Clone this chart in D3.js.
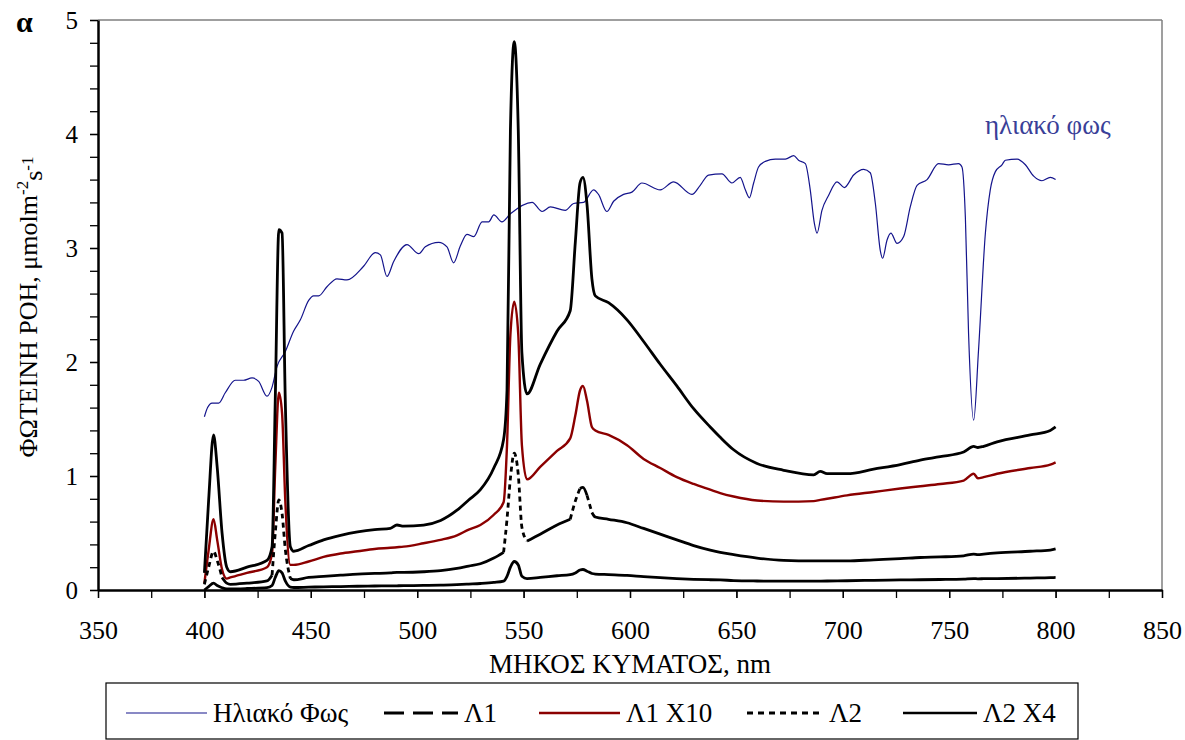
<!DOCTYPE html>
<html>
<head>
<meta charset="utf-8">
<script src="https://cdn.jsdelivr.net/npm/d3@7"></script>
<style>
    body { margin: 0; background: #fff; }
    text { font-family: "Liberation Serif", "Times New Roman", serif; fill: #000; }
</style>
</head>
<body>
<svg id="chart" width="1185" height="740"></svg>
<script>
// sunlight spectrum
var sunNm = [400, 401.5, 403.6, 406.7, 409.8, 414.5, 418.4, 422.4, 425.5, 429.4, 431.8, 434.1, 438, 441.9, 445.1,
    449, 451.3, 453.7, 457.6, 462.3, 467, 474.8, 480.3, 482.7, 485.8, 488.9, 495.2, 500.7, 503.8, 510.1, 514,
    517.1, 520.3, 523.4, 526.6, 530.5, 533.6, 536, 539.8, 543.8, 554, 558.7, 562.6, 569.6, 573.5, 578.2, 582.9,
    585.2, 589.1, 592.3, 597, 600.9, 605.6, 614.2, 620.5, 629.1, 633, 636.9, 643.2, 647.9, 651.8, 654.2, 656.1,
    658.1, 660.4, 663.6, 668.3, 673, 676.9, 679.2, 682.4, 684.7, 686.6, 687.9, 690.2, 693.3, 697.3, 700.7, 705.1,
    709.8, 712.9, 715.3, 717.6, 718.7, 720.8, 722.6, 725.5, 728.6, 731.7, 734.9, 739.6, 745, 749.7, 754.4, 756,
    757.6, 759.1, 761.5, 763.8, 767, 769.3, 771.7, 774.8, 776.4, 781.9, 785.8, 789.7, 793.6, 797.5, 800];
var sunVal = [1.52, 1.60, 1.64, 1.64, 1.73, 1.84, 1.84, 1.86, 1.83, 1.70, 1.78, 1.96, 2.09, 2.27, 2.37,
    2.54, 2.58, 2.58, 2.66, 2.73, 2.72, 2.84, 2.96, 2.94, 2.75, 2.88, 3.03, 2.95, 3.01, 3.05, 3.01,
    2.87, 3.02, 3.12, 3.10, 3.23, 3.23, 3.29, 3.23, 3.30, 3.40, 3.32, 3.36, 3.33, 3.39, 3.40, 3.51,
    3.47, 3.32, 3.41, 3.47, 3.49, 3.57, 3.51, 3.58, 3.47, 3.55, 3.64, 3.65, 3.57, 3.62, 3.51, 3.44,
    3.57, 3.71, 3.76, 3.78, 3.78, 3.81, 3.77, 3.74, 3.51, 3.22, 3.13, 3.33, 3.46, 3.58, 3.53, 3.64,
    3.69, 3.66, 3.39, 2.98, 2.91, 3.07, 3.13, 3.04, 3.10, 3.36, 3.55, 3.60, 3.74, 3.73, 3.74, 3.71,
    3.27, 2.25, 1.49, 2.11, 3.13, 3.51, 3.67, 3.73, 3.77, 3.78, 3.73, 3.63, 3.59, 3.62, 3.60];

// lamp spectra, common wavelengths
var lampNm = [400, 402, 404.3, 406, 408.3, 410.5, 412.2, 420, 429.4, 431.8, 433.3, 435, 436.5, 438, 440.4,
    442, 449, 456, 464, 472, 480, 487.4, 490.5, 493.6, 503, 511, 518.7, 524.2, 529.7, 536, 540.6,
    542.2, 543.8, 545.6, 547.5, 549.2, 551.6, 557.8, 565.7, 571.9, 574.3, 576.5, 577.9, 579.8, 582.1, 583.7,
    589.9, 598.6, 606.4, 614.2, 622, 629.9, 637.7, 642.4, 648.7, 659.7, 672.2, 686.3, 689.4, 692.6, 702,
    714.5, 727, 736.4, 745.8, 756.8, 761.5, 763.5, 766.2, 772.5, 788.1, 797.5, 800];
var l1 = [0.00, 0.03, 0.06, 0.04, 0.02, 0.01, 0.01, 0.013, 0.02, 0.04, 0.11, 0.17, 0.15, 0.08, 0.025,
    0.022, 0.025, 0.028, 0.03, 0.033, 0.035, 0.036, 0.037, 0.038, 0.04, 0.043, 0.047, 0.052, 0.057, 0.066, 0.078,
    0.12, 0.20, 0.25, 0.22, 0.12, 0.10, 0.11, 0.125, 0.135, 0.15, 0.175, 0.18, 0.165, 0.145, 0.14,
    0.135, 0.128, 0.117, 0.108, 0.10, 0.094, 0.09, 0.088, 0.083, 0.079, 0.077, 0.077, 0.078, 0.079, 0.081,
    0.085, 0.088, 0.09, 0.092, 0.096, 0.10, 0.098, 0.099, 0.10, 0.105, 0.108, 0.11];
var l1x10 = [0.06, 0.35, 0.62, 0.44, 0.18, 0.10, 0.11, 0.15, 0.20, 0.32, 1.08, 1.73, 1.55, 0.79, 0.22,
    0.22, 0.25, 0.29, 0.32, 0.34, 0.36, 0.37, 0.375, 0.38, 0.41, 0.44, 0.48, 0.53, 0.57, 0.66, 0.77,
    1.27, 2.24, 2.53, 2.24, 1.27, 0.97, 1.08, 1.22, 1.33, 1.53, 1.75, 1.79, 1.66, 1.43, 1.40,
    1.36, 1.27, 1.15, 1.07, 0.99, 0.93, 0.88, 0.85, 0.82, 0.785, 0.775, 0.78, 0.79, 0.80, 0.83,
    0.86, 0.89, 0.91, 0.93, 0.96, 1.02, 0.98, 0.99, 1.02, 1.07, 1.10, 1.12];
var l2 = [0.05, 0.20, 0.34, 0.26, 0.11, 0.06, 0.05, 0.06, 0.08, 0.13, 0.50, 0.79, 0.67, 0.36, 0.10,
    0.09, 0.11, 0.12, 0.13, 0.14, 0.145, 0.15, 0.155, 0.155, 0.16, 0.17, 0.19, 0.21, 0.23, 0.28, 0.33,
    0.62, 0.98, 1.20, 1.01, 0.55, 0.43, 0.49, 0.57, 0.62, 0.78, 0.89, 0.90, 0.83, 0.68, 0.64,
    0.62, 0.59, 0.54, 0.49, 0.44, 0.39, 0.35, 0.33, 0.31, 0.28, 0.26, 0.255, 0.255, 0.255, 0.255,
    0.265, 0.275, 0.285, 0.29, 0.30, 0.315, 0.31, 0.315, 0.325, 0.34, 0.35, 0.36];
var l2x4 = [0.15, 0.79, 1.36, 1.08, 0.50, 0.20, 0.16, 0.20, 0.26, 0.38, 1.67, 3.16, 3.13, 1.67, 0.38,
    0.34, 0.39, 0.44, 0.48, 0.51, 0.53, 0.54, 0.57, 0.56, 0.57, 0.61, 0.70, 0.79, 0.88, 1.07, 1.32,
    1.75, 4.03, 4.81, 4.03, 2.08, 1.72, 1.98, 2.27, 2.45, 3.05, 3.57, 3.62, 3.38, 2.73, 2.58,
    2.52, 2.37, 2.18, 1.98, 1.79, 1.59, 1.43, 1.34, 1.23, 1.11, 1.05, 1.01, 1.04, 1.02, 1.02,
    1.06, 1.10, 1.14, 1.17, 1.21, 1.26, 1.25, 1.26, 1.30, 1.36, 1.40, 1.43];

// axis ticks
var xTicks = [350, 400, 450, 500, 550, 600, 650, 700, 750, 800, 850];
var yTicks = [0, 1, 2, 3, 4, 5];
var legendLabels = ["Ηλιακό Φως", "Λ1", "Λ1 X10", "Λ2", "Λ2 X4"];

var plot = {left: 98, right: 1162, top: 20, bottom: 590};

var svg = d3.select("#chart");

var x = d3.scaleLinear().domain([350, 850]).range([plot.left, plot.right]);
var y = d3.scaleLinear().domain([0, 5]).range([plot.bottom, plot.top]);

var line = d3.line().curve(d3.curveMonotoneX);

function pts(nm, vals) {
    return nm.map(function (d, i) { return [x(d), y(vals[i])]; });
}

// Excel restarts the dash pattern on every segment, so only steep parts look dashed
function runs(p, limit) {
    var out = [], cur = null;
    for (var i = 1; i < p.length; i++) {
        var dx = Math.abs(p[i][0] - p[i - 1][0]), dy = Math.abs(p[i][1] - p[i - 1][1]);
        var steep = dy > limit * dx;
        if (!cur || cur.steep !== steep) {
            cur = {steep: steep, pts: [p[i - 1]]};
            out.push(cur);
        }
        cur.pts.push(p[i]);
    }
    return out;
}

/* frame */
svg.append("line")
    .attr("x1", plot.left).attr("x2", plot.right)
    .attr("y1", plot.top).attr("y2", plot.top)
    .attr("stroke", "#7f7f7f").attr("stroke-width", 1.5);
svg.append("line")
    .attr("x1", plot.right).attr("x2", plot.right)
    .attr("y1", plot.top).attr("y2", plot.bottom)
    .attr("stroke", "#7f7f7f").attr("stroke-width", 1.5);

/* axes */
var yMinor = d3.range(0, 5.001, 0.2);
svg.append("g")
    .attr("transform", "translate(" + plot.left + ",0)")
    .call(d3.axisLeft(y).tickValues(yMinor).tickSize(8).tickFormat(""))
    .call(function (g) { g.select(".domain").remove(); g.selectAll("line").attr("stroke-width", 1.3); });
var yAxis = svg.append("g")
    .attr("transform", "translate(" + plot.left + ",0)")
    .call(d3.axisLeft(y).tickValues(yTicks).tickSize(8).tickPadding(12).tickSizeOuter(0).tickFormat(d3.format("d")));
yAxis.select(".domain").attr("stroke-width", 2.5);
yAxis.selectAll("line").attr("stroke-width", 1.3);
yAxis.selectAll("text").style("font-size", "25px").attr("font-family", null);

var xMinor = d3.range(350, 851, 25);
svg.append("g")
    .attr("transform", "translate(0," + plot.bottom + ")")
    .call(d3.axisBottom(x).tickValues(xMinor).tickSize(8).tickFormat(""))
    .call(function (g) { g.select(".domain").remove(); g.selectAll("line").attr("stroke-width", 1.3); });
var xAxis = svg.append("g")
    .attr("transform", "translate(0," + plot.bottom + ")")
    .call(d3.axisBottom(x).tickValues(xTicks).tickSize(8).tickPadding(23).tickSizeOuter(0).tickFormat(d3.format("d")));
xAxis.select(".domain").attr("stroke-width", 2.5);
xAxis.selectAll("line").attr("stroke-width", 1.3);
xAxis.selectAll("text").style("font-size", "26px").attr("font-family", null);

/* axis titles */
svg.append("text")
    .attr("x", (plot.left + plot.right) / 2)
    .attr("y", 673)
    .attr("text-anchor", "middle")
    .style("font-size", "27px")
    .text("ΜΗΚΟΣ ΚΥΜΑΤΟΣ, nm");

var yTitle = svg.append("text")
    .attr("transform", "translate(37,307) rotate(-90)")
    .attr("text-anchor", "middle")
    .style("font-size", "26px");
yTitle.append("tspan").text("ΦΩΤΕΙΝΗ ΡΟΗ, μmolm");
yTitle.append("tspan").attr("dy", "-0.55em").style("font-size", "17px").text("-2");
yTitle.append("tspan").attr("dy", "0.55em").text("s");
yTitle.append("tspan").attr("dy", "-0.55em").style("font-size", "17px").text("-1");

svg.append("text")
    .attr("x", 16).attr("y", 32)
    .style("font-size", "30px")
    .style("font-weight", "bold")
    .text("α");

/* series */
var series = [
    {name: "Λ1", nm: lampNm, v: l1, color: "#000", width: 2.8},
    {name: "Λ1 X10", nm: lampNm, v: l1x10, color: "#8b0000", width: 2.4},
    {name: "Λ2", nm: lampNm, v: l2, color: "#000", width: 2.8, dash: "5,4"},
    {name: "Λ2 X4", nm: lampNm, v: l2x4, color: "#000", width: 2.8}
];

var lines = svg.append("g").attr("fill", "none");

lines.append("path")
    .attr("d", line(pts(sunNm, sunVal)))
    .attr("stroke", "#14148c")
    .attr("stroke-width", 1.2);

series.forEach(function (s) {
    var p = pts(s.nm, s.v);
    if (!s.dash) {
        lines.append("path")
            .attr("d", line(p))
            .attr("stroke", s.color)
            .attr("stroke-width", s.width)
            .attr("stroke-linejoin", "round");
        return;
    }
    lines.selectAll(null)
        .data(runs(p, 2.5))
        .enter()
        .append("path")
        .attr("d", function (r) { return line(r.pts); })
        .attr("stroke", s.color)
        .attr("stroke-width", s.width)
        .attr("stroke-dasharray", function (r) { return r.steep ? s.dash : null; });
});

svg.append("text")
    .attr("x", 985).attr("y", 134)
    .style("font-size", "27px")
    .style("fill", "#3a3f98")
    .text("ηλιακό φως");

/* legend */
var legend = svg.append("g");
legend.append("rect")
    .attr("x", 106).attr("y", 683)
    .attr("width", 972).attr("height", 56)
    .attr("fill", "#fff")
    .attr("stroke", "#000")
    .attr("stroke-width", 1.2);

var legendItems = [
    {x1: 126, x2: 207, color: "#14148c", width: 1.2},
    {x1: 384, x2: 458, color: "#000", width: 3, dash: "20,9"},
    {x1: 539, x2: 620, color: "#8b0000", width: 2.5},
    {x1: 747, x2: 823, color: "#000", width: 3, dash: "6,5"},
    {x1: 903, x2: 977, color: "#000", width: 2.5}
];

legendItems.forEach(function (d, i) {
    legend.append("line")
        .attr("x1", d.x1).attr("x2", d.x2)
        .attr("y1", 713).attr("y2", 713)
        .attr("stroke", d.color)
        .attr("stroke-width", d.width)
        .attr("stroke-dasharray", d.dash || null);
    legend.append("text")
        .attr("x", d.x2 + 6).attr("y", 722)
        .style("font-size", "27px")
        .text(legendLabels[i]);
});
</script>
</body>
</html>
